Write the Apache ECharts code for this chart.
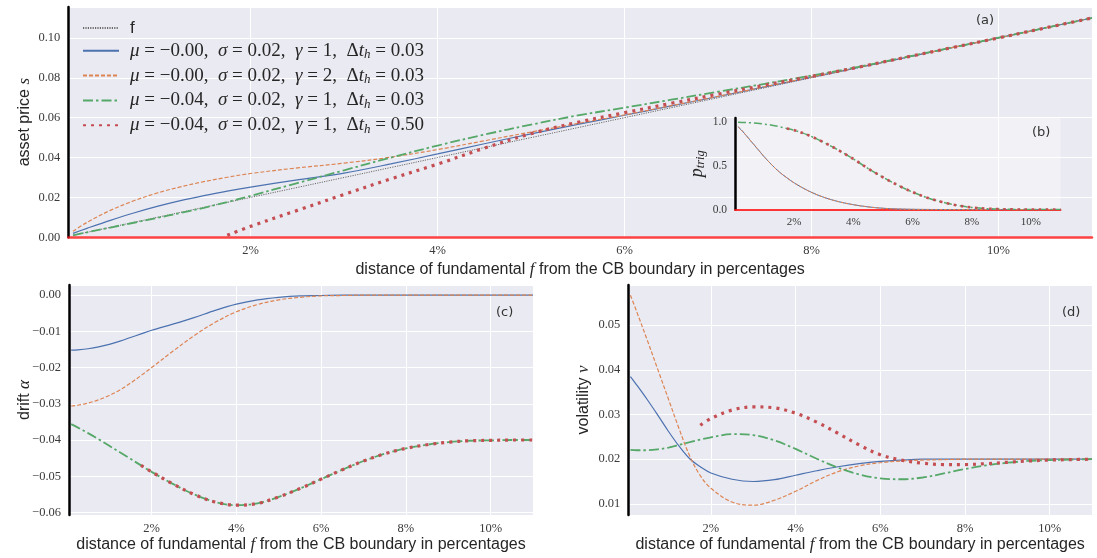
<!DOCTYPE html>
<html><head><meta charset="utf-8">
<script src="https://cdn.jsdelivr.net/npm/echarts@6/dist/echarts.min.js"></script>
<style>html,body{margin:0;padding:0;background:#fff}#chart{width:1097px;height:558px}</style>
</head><body><div id="chart"></div>
<script>
// distance of fundamental f from the CB boundary (%)
const distance = [0.1, 0.25, 0.5, 0.75, 1, 1.25, 1.5, 1.75, 2, 2.5, 3, 3.5, 4, 4.5, 5, 5.5, 6, 6.5, 7, 7.5, 8, 8.5, 9, 9.5, 10, 10.5, 11];

// (a) asset price s
const priceF      = [0.001, 0.0025, 0.005, 0.0075, 0.01, 0.0125, 0.015, 0.0175, 0.02, 0.025, 0.03, 0.035, 0.04, 0.045, 0.05, 0.055, 0.06, 0.065, 0.07, 0.075, 0.08, 0.085, 0.09, 0.095, 0.10, 0.105, 0.11];
const priceBlue   = [0.0020, 0.0045, 0.0085, 0.0122, 0.0155, 0.0184, 0.0209, 0.0232, 0.0252, 0.0288, 0.0322, 0.0368, 0.0418, 0.0469, 0.0519, 0.0566, 0.0612, 0.0659, 0.0706, 0.0754, 0.0803, 0.0852, 0.0901, 0.0951, 0.1000, 0.1050, 0.1100];
const priceOrange = [0.0030, 0.0075, 0.0135, 0.0183, 0.0222, 0.0253, 0.0279, 0.0301, 0.0320, 0.0348, 0.0372, 0.0402, 0.0440, 0.0484, 0.0528, 0.0571, 0.0614, 0.0660, 0.0707, 0.0755, 0.0804, 0.0853, 0.0902, 0.0951, 0.1000, 0.1050, 0.1100];
const priceGreen  = [0.0010, 0.0025, 0.0049, 0.0073, 0.0097, 0.0122, 0.0148, 0.0177, 0.0208, 0.0272, 0.0336, 0.0400, 0.0460, 0.0515, 0.0565, 0.0611, 0.0650, 0.0690, 0.0730, 0.0770, 0.0811, 0.0855, 0.0903, 0.0951, 0.1001, 0.1050, 0.1100];
const priceRed    = [null, null, null, null, null, null, null, 0.0010, 0.0055, 0.0135, 0.0215, 0.0293, 0.0367, 0.0447, 0.0520, 0.0577, 0.0625, 0.0672, 0.0718, 0.0763, 0.0807, 0.0853, 0.0902, 0.0951, 0.1000, 0.1050, 0.1100];

// (b) trigger probability p_trig
const trigBlue   = [0.95, 0.90, 0.80, 0.70, 0.60, 0.51, 0.43, 0.365, 0.305, 0.21, 0.14, 0.09, 0.055, 0.03, 0.014, 0.006, 0.002, 0.0005, 0, 0, 0, 0, 0, 0, 0, 0, 0];
const trigOrange = [0.95, 0.90, 0.80, 0.70, 0.60, 0.51, 0.43, 0.365, 0.305, 0.21, 0.14, 0.09, 0.055, 0.03, 0.014, 0.006, 0.002, 0.0005, 0, 0, 0, 0, 0, 0, 0, 0, 0];
const trigGreen  = [1.0, 0.999, 0.995, 0.99, 0.98, 0.967, 0.95, 0.93, 0.91, 0.85, 0.77, 0.68, 0.58, 0.47, 0.37, 0.28, 0.20, 0.135, 0.085, 0.048, 0.024, 0.010, 0.004, 0.001, 0, 0, 0];
const trigRed    = [null, null, null, null, null, null, null, 0.93, 0.91, 0.85, 0.77, 0.68, 0.58, 0.47, 0.37, 0.28, 0.20, 0.135, 0.085, 0.048, 0.024, 0.010, 0.004, 0.001, 0, 0, 0];

// (c) drift alpha
const driftBlue   = [-0.0152, -0.0151, -0.0148, -0.0143, -0.0136, -0.0127, -0.0117, -0.0107, -0.0097, -0.0080, -0.0062, -0.0042, -0.0025, -0.0013, -0.0006, -0.0002, -0.0001, 0, 0, 0, 0, 0, 0, 0, 0, 0, 0];
const driftOrange = [-0.0306, -0.0304, -0.0298, -0.0289, -0.0277, -0.0262, -0.0243, -0.0222, -0.0200, -0.0155, -0.0112, -0.0075, -0.0046, -0.0026, -0.0013, -0.0006, -0.0002, -0.0001, 0, 0, 0, 0, 0, 0, 0, 0, 0];
const driftGreen  = [-0.0356, -0.0365, -0.0381, -0.0398, -0.0416, -0.0434, -0.0452, -0.0470, -0.0488, -0.0521, -0.0550, -0.0571, -0.0580, -0.0575, -0.0557, -0.0534, -0.0508, -0.0482, -0.0458, -0.0438, -0.0423, -0.0413, -0.0406, -0.0402, -0.0401, -0.0400, -0.0400];
const driftRed    = [null, null, null, null, null, null, null, -0.0470, -0.0488, -0.0521, -0.0550, -0.0571, -0.0580, -0.0575, -0.0557, -0.0534, -0.0508, -0.0482, -0.0458, -0.0438, -0.0423, -0.0413, -0.0406, -0.0402, -0.0401, -0.0400, -0.0400];

// (d) volatility nu
const volBlue   = [0.0385, 0.0366, 0.0333, 0.0298, 0.0262, 0.0229, 0.0201, 0.0183, 0.0169, 0.0155, 0.0150, 0.0154, 0.0164, 0.0174, 0.0183, 0.0190, 0.0195, 0.0198, 0.0200, 0.0200, 0.0200, 0.0200, 0.0200, 0.0200, 0.0200, 0.0200, 0.0200];
const volOrange = [0.0567, 0.0530, 0.0466, 0.0400, 0.0334, 0.0268, 0.0207, 0.0163, 0.0135, 0.0104, 0.0097, 0.0108, 0.0128, 0.0152, 0.0172, 0.0185, 0.0192, 0.0196, 0.0198, 0.0199, 0.0200, 0.0200, 0.0200, 0.0200, 0.0200, 0.0200, 0.0200];
const volGreen  = [0.0221, 0.0220, 0.0220, 0.0222, 0.0226, 0.0232, 0.0238, 0.0244, 0.0249, 0.0256, 0.0254, 0.0242, 0.0223, 0.0201, 0.0181, 0.0166, 0.0157, 0.0155, 0.0159, 0.0168, 0.0178, 0.0186, 0.0192, 0.0196, 0.0198, 0.0199, 0.0200];
const volRed    = [null, null, null, null, null, null, null, 0.0276, 0.0291, 0.0310, 0.0317, 0.0315, 0.0303, 0.0283, 0.0258, 0.0232, 0.0210, 0.0198, 0.0191, 0.0188, 0.0188, 0.0190, 0.0193, 0.0196, 0.0198, 0.0199, 0.0200];

// legend entries
const seriesNames = ['f', 'mu0_gamma1', 'mu0_gamma2', 'mu4_dt003', 'mu4_dt050'];
const legendText = {
  f: '{sans|f}',
  mu0_gamma1: '{i|μ} = −0.00,  {i|σ} = 0.02,  {i|γ} = 1,  Δ{i|t}{sub|h} = 0.03',
  mu0_gamma2: '{i|μ} = −0.00,  {i|σ} = 0.02,  {i|γ} = 2,  Δ{i|t}{sub|h} = 0.03',
  mu4_dt003:  '{i|μ} = −0.04,  {i|σ} = 0.02,  {i|γ} = 1,  Δ{i|t}{sub|h} = 0.03',
  mu4_dt050:  '{i|μ} = −0.04,  {i|σ} = 0.02,  {i|γ} = 1,  Δ{i|t}{sub|h} = 0.50'
};

const C = { blue: '#4c72b0', orange: '#dd8452', green: '#55a868', red: '#c44e52', gray: '#6a6a6a' };
const BG = '#eaeaf2';
const SERIF = 'Liberation Serif';
const SANS = 'Liberation Sans';

const pairs = ys => distance.map((x, i) => [x, ys[i]]).filter(p => p[1] !== null);

const styles = {
  f:      { color: C.gray,   width: 1,   type: [1.2, 1.2] },
  blue:   { color: C.blue,   width: 1.2, type: 'solid' },
  orange: { color: C.orange, width: 1.2, type: [4, 2] },
  green:  { color: C.green,  width: 1.8, type: [10, 3, 2.5, 3] },
  red:    { color: C.red,    width: 3.2, type: [3, 5] }
};

function line(name, ys, st, grid, extra) {
  return Object.assign({
    type: 'line', name: name, xAxisIndex: grid, yAxisIndex: grid,
    data: pairs(ys), showSymbol: false, symbol: 'none', smooth: 0.35,
    silent: true, animation: false,
    lineStyle: { color: st.color, width: st.width, type: st.type, cap: 'butt' },
    itemStyle: { color: st.color }
  }, extra || {});
}

const tickLabel = { fontFamily: SERIF, fontSize: 12.5, color: '#3a3a3a' };
const pctFormatter = v => {
  const r = Math.round(v);
  return (Math.abs(v - r) < 1e-6 && r % 2 === 0 && r > 0 && r <= 10) ? r + '%' : '';
};
const decFormatter = digits => v => {
  const k = Math.round(v * 100);
  if (Math.abs(v * 100 - k) > 1e-6) return '';
  if (k === 0) return (0).toFixed(digits);
  return (v < 0 ? '−' : '') + Math.abs(v).toFixed(digits);
};
const xName = 'distance of fundamental {m|f} from the CB boundary in percentages';
const nameStyle = {
  fontFamily: SANS, fontSize: 16, color: '#262626',
  rich: { m: { fontFamily: SERIF, fontStyle: 'italic', fontSize: 17, color: '#262626' } }
};

function xAxis(grid, opts) {
  return Object.assign({
    type: 'value', gridIndex: grid, min: 0.05, max: 11, splitNumber: 5,
    axisLine: { show: false }, axisTick: { show: false },
    axisLabel: Object.assign({ formatter: pctFormatter, margin: 7, showMinLabel: false, showMaxLabel: false }, tickLabel),
    splitLine: { show: true, lineStyle: { color: '#ffffff', width: 1 } },
    nameMoveOverlap: false
  }, opts || {});
}
function yAxis(grid, opts) {
  return Object.assign({
    type: 'value', gridIndex: grid,
    axisLine: { show: true, onZero: false, lineStyle: { color: '#000', width: 2.5 } },
    axisTick: { show: false },
    axisLabel: Object.assign({ formatter: decFormatter(2), margin: 8 }, tickLabel),
    splitLine: { show: true, lineStyle: { color: '#ffffff', width: 1 } },
    nameMoveOverlap: false
  }, opts || {});
}

const option = {
  animation: false,
  backgroundColor: '#ffffff',
  title: [
    { text: '(a)', left: 971, top: 9 },
    { text: '(b)', left: 1027, top: 121 },
    { text: '(c)', left: 491, top: 301 },
    { text: '(d)', left: 1057, top: 301 }
  ].map(t => Object.assign(t, { textStyle: { fontFamily: 'DejaVu Sans', fontSize: 13, fontWeight: 'normal', color: '#333' } })),
  grid: [
    { left: 68.3, top: 7, width: 1023.7, height: 230.3, show: true, backgroundColor: BG, borderWidth: 0, containLabel: false },
    { left: 735, top: 118, width: 325.5, height: 91.5, show: true, backgroundColor: 'rgba(255,255,255,0.32)', borderWidth: 0, containLabel: false },
    { left: 69, top: 285, width: 464, height: 230, show: true, backgroundColor: BG, borderWidth: 0, containLabel: false },
    { left: 628.3, top: 285, width: 463.7, height: 230, show: true, backgroundColor: BG, borderWidth: 0, containLabel: false }
  ],
  legend: {
    data: seriesNames, orient: 'vertical', left: 82, top: 19.5, padding: 0, itemGap: 4.8,
    itemWidth: 36, itemHeight: 12, selectedMode: false,
    itemStyle: { opacity: 0 },
    formatter: name => legendText[name],
    textStyle: {
      fontFamily: SERIF, fontSize: 19, color: '#262626', padding: [0, 0, 0, 6],
      rich: {
        i: { fontFamily: SERIF, fontStyle: 'italic', fontSize: 19, color: '#262626', lineHeight: 21 },
        sub: { fontFamily: SERIF, fontStyle: 'italic', fontSize: 13, color: '#262626', lineHeight: 13, verticalAlign: 'bottom' },
        sans: { fontFamily: SANS, fontSize: 17, color: '#262626', lineHeight: 21 }
      }
    }
  },
  xAxis: [
    xAxis(0, {
      axisLine: { show: true, onZero: false, lineStyle: { color: 'rgba(255,20,20,0.8)', width: 2.5 } },
      name: xName, nameLocation: 'middle', nameGap: 24, nameTextStyle: nameStyle
    }),
    xAxis(1, {
      min: 0, max: 11,
      axisLine: { show: true, onZero: false, lineStyle: { color: 'rgba(255,20,20,0.85)', width: 2 } },
      splitLine: { show: false },
      axisLabel: Object.assign({ formatter: pctFormatter, margin: 7, showMinLabel: false, showMaxLabel: false }, tickLabel, { fontSize: 11 })
    }),
    xAxis(2, { name: xName, nameLocation: 'middle', nameGap: 21, nameTextStyle: nameStyle }),
    xAxis(3, { name: xName, nameLocation: 'middle', nameGap: 21, nameTextStyle: nameStyle })
  ],
  yAxis: [
    yAxis(0, {
      min: 0, max: 0.1155, interval: 0.02,
      name: 'asset price {m|s}', nameLocation: 'middle', nameGap: 35, nameRotate: 90, nameTextStyle: nameStyle
    }),
    yAxis(1, {
      min: 0, max: 1.05, interval: 0.5, splitLine: { show: false },
      axisLabel: Object.assign({ formatter: v => (Math.abs(v * 2 - Math.round(v * 2)) < 1e-6 ? v.toFixed(1) : ''), margin: 8 }, tickLabel, { fontSize: 11.5 }),
      name: '{m|p}{s|trig}', nameLocation: 'middle', nameGap: 28, nameRotate: 90,
      nameTextStyle: {
        rich: {
          m: { fontFamily: SERIF, fontStyle: 'italic', fontSize: 18, color: '#262626', lineHeight: 20 },
          s: { fontFamily: SERIF, fontStyle: 'italic', fontSize: 12.5, color: '#262626', lineHeight: 12, verticalAlign: 'bottom' }
        }
      }
    }),
    yAxis(2, {
      min: -0.0607, max: 0.0028, splitNumber: 6,
      name: 'drift {m|α}', nameLocation: 'middle', nameGap: 36, nameRotate: 90, nameTextStyle: nameStyle
    }),
    yAxis(3, {
      min: 0.0075, max: 0.059, splitNumber: 5,
      name: 'volatility {m|ν}', nameLocation: 'middle', nameGap: 36, nameRotate: 90, nameTextStyle: nameStyle
    })
  ],
  series: [
    line('f', priceF, styles.f, 0),
    line('mu0_gamma1', priceBlue, styles.blue, 0),
    line('mu0_gamma2', priceOrange, styles.orange, 0),
    line('mu4_dt003', priceGreen, styles.green, 0),
    line('mu4_dt050', priceRed, styles.red, 0),

    line('trig_blue', trigBlue, styles.blue, 1, { lineStyle: { color: C.blue, width: 1 } }),
    line('trig_orange', trigOrange, styles.orange, 1, { lineStyle: { color: C.orange, width: 1, type: [3, 1.5] } }),
    line('trig_green', trigGreen, styles.green, 1, { lineStyle: { color: C.green, width: 1.5, type: [8, 3, 2, 3] } }),
    line('trig_red', trigRed, styles.red, 1, { lineStyle: { color: C.red, width: 2.6, type: [2.6, 4.5] } }),

    line('drift_blue', driftBlue, styles.blue, 2),
    line('drift_orange', driftOrange, styles.orange, 2),
    line('drift_green', driftGreen, styles.green, 2),
    line('drift_red', driftRed, styles.red, 2),

    line('vol_blue', volBlue, styles.blue, 3),
    line('vol_orange', volOrange, styles.orange, 3),
    line('vol_green', volGreen, styles.green, 3),
    line('vol_red', volRed, styles.red, 3)
  ]
};

const chart = echarts.init(document.getElementById('chart'), null, { renderer: 'canvas' });
chart.setOption(option);
</script>
</body></html>
